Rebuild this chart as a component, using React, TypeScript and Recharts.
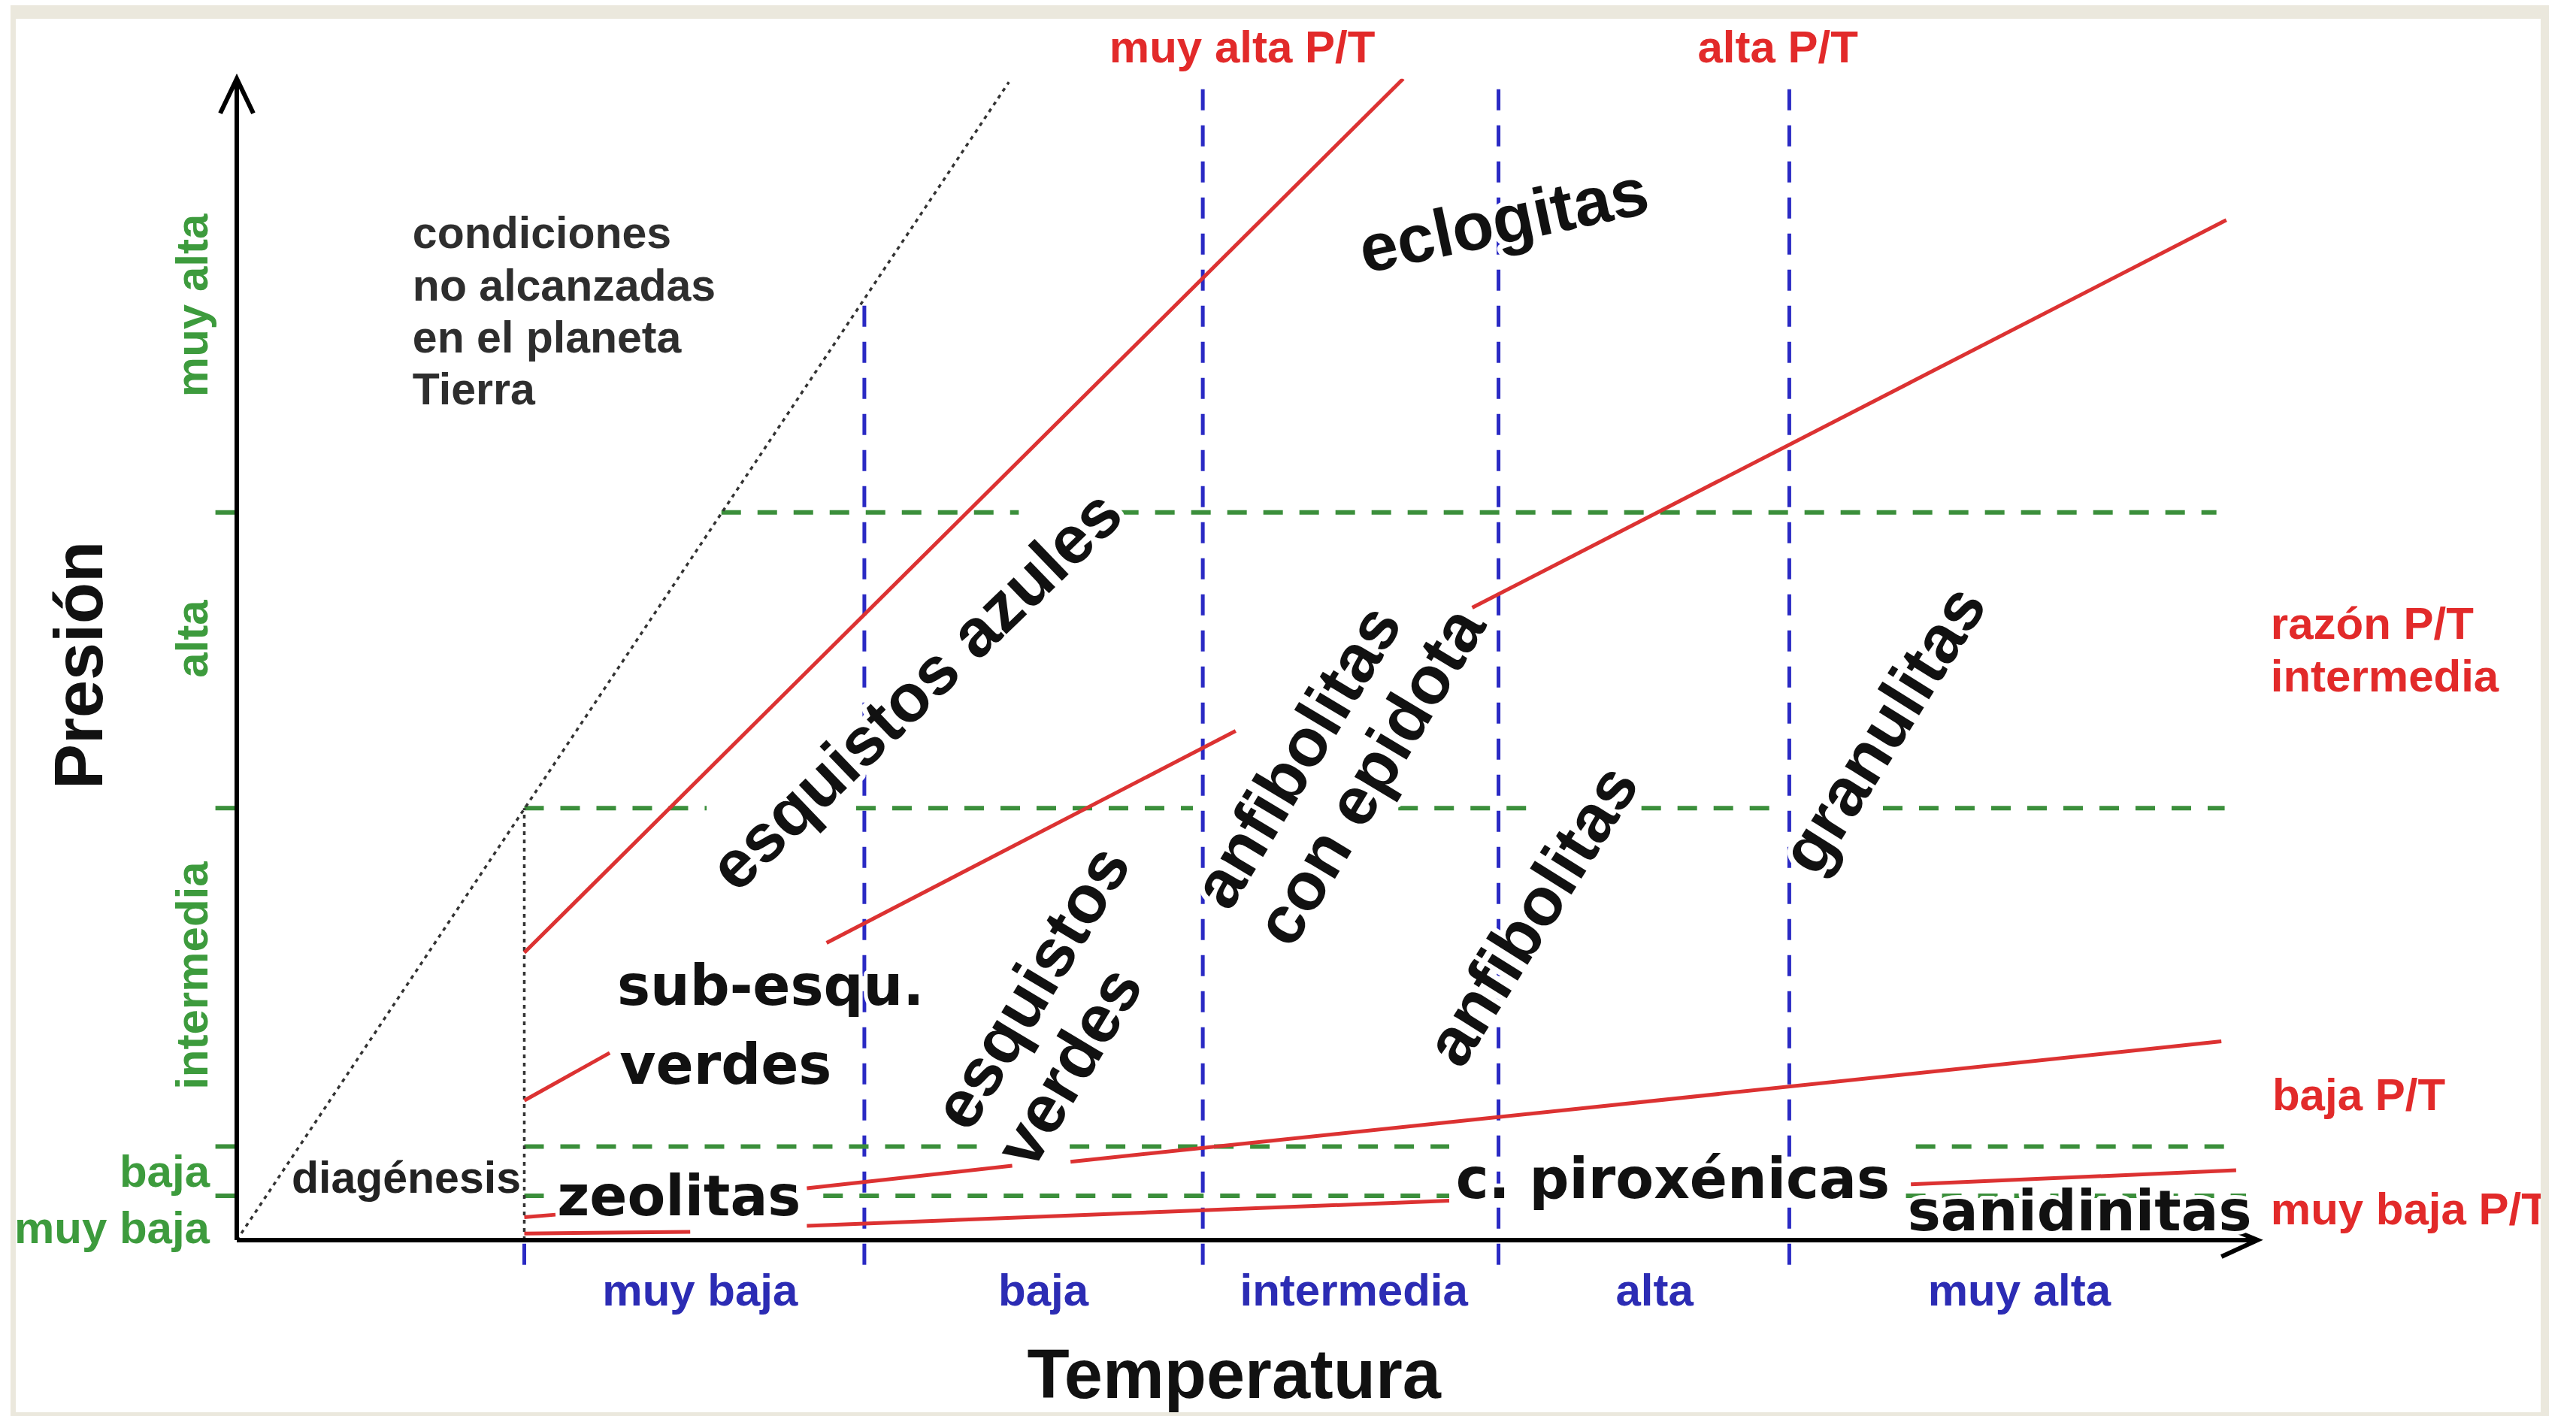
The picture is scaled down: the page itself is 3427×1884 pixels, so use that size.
import React from 'react';
import { ComposedChart, XAxis, YAxis, Line, ReferenceLine, ReferenceDot } from 'recharts';

const WIDTH = 3427;
const HEIGHT = 1884;

// diagram units, 0 at the origin (qualitative axes)
const T_MAX = 123;
const P_MAX = 70.7;

// temperature classes (blue)
const tempLimits = [17.5, 38.2, 58.8, 76.8, 94.5];
const tempLimitTops = [0, 57.5, 70.5, 70.5, 70.5];
const tempLimitBottom = -1.5;
const tempClassNames = ['muy baja', 'baja', 'intermedia', 'alta', 'muy alta'];
const tempClassTicks = [28.2, 49.1, 68.0, 86.3, 108.5];

// pressure classes (green)
const presClassNames = ['muy baja', 'baja', 'intermedia', 'alta', 'muy alta'];
const presClassTicks = [0.77, 4.18, 16.1, 36.6, 56.9];
const presLimits = [2.7, 5.7, 26.3, 44.3];
// visible pieces of each dashed pressure limit, [from T, to T]
const presLimitPieces = [
  [[17.5, 19.4], [35.7, 73.8], [101.6, 122.3]],
  [[17.5, 45.5], [50.7, 73.8], [102.2, 121.1]],
  [[17.5, 28.6], [37.7, 58.2], [70.7, 78.5], [85.5, 93.4], [100.2, 121]],
  [[29.5, 47.6], [53.7, 120.5]],
];

// dotted limits: conditions not reached on Earth, diagenesis
const earthLimit = [{ t: 0, p: 0 }, { t: 47, p: 70.5 }];
const diagenesisLimit = [{ t: 17.5, p: 0 }, { t: 17.5, p: 26.3 }];

// P/T ratio lines and facies boundaries (red)
const muyAltaPT = [{ t: 17.5, p: 17.5 }, { t: 71, p: 70.7 }];
const azulVerdeLimit = [{ t: 35.9, p: 18.1 }, { t: 60.8, p: 31.0 }];
const altaPT = [{ t: 75.2, p: 38.5 }, { t: 121.1, p: 62.1 }];
const subEsquLimit = [{ t: 17.5, p: 8.5 }, { t: 22.7, p: 11.4 }];
const bajaPT = [
  [{ t: 17.5, p: 1.4 }, { t: 19.4, p: 1.55 }],
  [{ t: 34.7, p: 3.16 }, { t: 47.2, p: 4.53 }],
  [{ t: 50.75, p: 4.77 }, { t: 120.8, p: 12.1 }],
];
const muyBajaPT = [
  [{ t: 17.5, p: 0.4 }, { t: 27.6, p: 0.5 }],
  [{ t: 34.7, p: 0.87 }, { t: 73.8, p: 2.4 }],
  [{ t: 101.9, p: 3.4 }, { t: 121.7, p: 4.25 }],
];

// facies names
const slantNames = ['eclogitas', 'esquistos azules', 'anfibolitas', 'granulitas'];
const slantAt = [[77.1, 62.1], [41.3, 33.5], [78.8, 19.8], [100.2, 31.1]];
const pairedNames = [['esquistos', 'verdes'], ['anfibolitas', 'con epidota']];
const pairedAt = [[45.3, 6.03], [61.1, 19.5]];
const flatNames = ['sub-esqu.', 'verdes', 'zeolitas', 'c. piroxénicas', 'sanidinitas'];
const flatAt = [[23.15, 14.3], [23.3, 9.5], [19.5, 1.52], [74.2, 2.56], [101.7, 0.6]];

const noteLines = ['condiciones', 'no alcanzadas', 'en el planeta', 'Tierra'];
const noteAt = [[10.7, 60.4], [10.7, 57.2], [10.7, 54.05], [10.7, 50.9]];
const diagenesisAt = [3.34, 2.9];

const ratioNames = ['muy alta P/T', 'alta P/T', 'razón P/T', 'intermedia', 'baja P/T', 'muy baja P/T'];
const ratioAt = [[61.2, 71.7], [93.8, 71.7], [123.8, 36.6], [123.8, 33.4], [123.9, 7.9], [123.8, 0.96]];

const titleT = [60.7, -9.6];
const titleP = [-8.2, 35.0];

// styles
const ARIAL = '"Liberation Sans", Arial, Helvetica, sans-serif';
const DEJAVU = '"DejaVu Sans", Verdana, sans-serif';
const RED = '#dc3232';
const RED_TEXT = '#e22a2a';
const BLUE = '#2a2ac4';
const BLUE_TEXT = '#2c2cb4';
const GREEN = '#3b8f3b';
const GREEN_TEXT = '#3d9b3d';
const INK = '#111';
const FRAME = '#ebe8dd';

const slantAngles = [-12, -44, -58, -58];

type TextOpts = {
  angle?: number;
  size: number;
  family: string;
  color: string;
  anchor: 'start' | 'middle' | 'end';
  baseline?: string;
  lineHeight?: number;
  halo?: number;
};

const textShape = (lines: string[], o: TextOpts) => (props: any) => {
  const { cx, cy } = props;
  const lh = o.lineHeight ?? o.size * 1.1;
  const first = -((lines.length - 1) / 2) * lh;
  return (
    <text
      x={cx}
      y={cy}
      transform={o.angle ? `rotate(${o.angle} ${cx} ${cy})` : undefined}
      textAnchor={o.anchor}
      dominantBaseline={o.baseline ?? 'auto'}
      fontFamily={o.family}
      fontWeight={700}
      fontSize={o.size}
      fill={o.color}
      stroke={o.halo ? '#fff' : 'none'}
      strokeWidth={o.halo ?? 0}
      strokeLinejoin="round"
      style={{ paintOrder: 'stroke' }}
    >
      {lines.map((l, i) => (
        <tspan key={i} x={cx} dy={i === 0 ? first : lh}>
          {l}
        </tspan>
      ))}
    </text>
  );
};

const arrowUp = (props: any) => {
  const { cx, cy } = props;
  return <path d={`M${cx - 22},${cy + 46} L${cx},${cy} L${cx + 22},${cy + 46}`} fill="none" stroke="#000" strokeWidth={6} />;
};

const arrowRight = (props: any) => {
  const { cx, cy } = props;
  return <path d={`M${cx - 48},${cy - 20} L${cx},${cy} L${cx - 48},${cy + 22}`} fill="none" stroke="#000" strokeWidth={6} />;
};

const renderTempTick = (props: any) => {
  const { x, y, index } = props;
  return (
    <text x={x} y={y + 87} textAnchor="middle" fontFamily={ARIAL} fontWeight={700} fontSize={60} fill={BLUE_TEXT}>
      {tempClassNames[index]}
    </text>
  );
};

const renderPresTick = (props: any) => {
  const { x, y, index } = props;
  if (index < 2) {
    return (
      <text x={x - 36} y={y} textAnchor="end" dominantBaseline="central" fontFamily={ARIAL} fontWeight={700} fontSize={60} fill={GREEN_TEXT}>
        {presClassNames[index]}
      </text>
    );
  }
  const tx = x - 39;
  return (
    <text x={tx} y={y} transform={`rotate(-90 ${tx} ${y})`} textAnchor="middle" fontFamily={ARIAL} fontWeight={700} fontSize={60} fill={GREEN_TEXT}>
      {presClassNames[index]}
    </text>
  );
};

export default function App() {
  const redLines = [muyAltaPT, azulVerdeLimit, altaPT, subEsquLimit, ...bajaPT, ...muyBajaPT];

  return (
    <div style={{ position: 'absolute', left: 0, top: 0, width: WIDTH, height: HEIGHT, background: '#fff', overflow: 'hidden' }}>
      <div style={{ position: 'absolute', left: 0, top: 0 }}>
        <ComposedChart width={WIDTH} height={HEIGHT} margin={{ top: 104.8, right: 423.7, bottom: 233, left: 314 }}>
          <XAxis
            type="number"
            dataKey="t"
            domain={[0, T_MAX]}
            allowDataOverflow
            ticks={tempClassTicks}
            interval={0}
            tickLine={false}
            tickSize={0}
            tickMargin={0}
            height={1}
            axisLine={{ stroke: '#000', strokeWidth: 6 }}
            tick={renderTempTick}
          />
          <YAxis
            type="number"
            dataKey="p"
            domain={[0, P_MAX]}
            allowDataOverflow
            ticks={presClassTicks}
            interval={0}
            tickLine={false}
            tickSize={0}
            tickMargin={0}
            width={1}
            axisLine={{ stroke: '#000', strokeWidth: 6 }}
            tick={renderPresTick}
          />

          {/* temperature class limits */}
          {tempLimits.map((t, i) => (
            <ReferenceLine
              key={`tl${i}`}
              segment={[{ x: t, y: tempLimitBottom }, { x: t, y: tempLimitTops[i] }]}
              ifOverflow="visible"
              stroke={BLUE}
              strokeWidth={5}
              strokeDasharray="28 20"
            />
          ))}

          {/* pressure class limits */}
          {presLimits.map((p, i) =>
            presLimitPieces[i].map(([a, b], j) => (
              <ReferenceLine
                key={`pl${i}-${j}`}
                segment={[{ x: a, y: p }, { x: b, y: p }]}
                ifOverflow="visible"
                stroke={GREEN}
                strokeWidth={6}
                strokeDasharray="26 22"
              />
            ))
          )}
          {presLimits.map((p, i) => (
            <ReferenceLine
              key={`pt${i}`}
              segment={[{ x: -1.3, y: p }, { x: 0, y: p }]}
              ifOverflow="visible"
              stroke={GREEN}
              strokeWidth={6}
            />
          ))}

          <ReferenceLine
            segment={[{ x: earthLimit[0].t, y: earthLimit[0].p }, { x: earthLimit[1].t, y: earthLimit[1].p }]}
            ifOverflow="visible"
            stroke="#333"
            strokeWidth={3.5}
            strokeDasharray="5 6"
          />
          <ReferenceLine
            segment={[{ x: diagenesisLimit[0].t, y: diagenesisLimit[0].p }, { x: diagenesisLimit[1].t, y: diagenesisLimit[1].p }]}
            ifOverflow="visible"
            stroke="#333"
            strokeWidth={3.5}
            strokeDasharray="5 6"
          />

          {redLines.map((seg, i) => (
            <Line
              key={`r${i}`}
              data={seg}
              dataKey="p"
              type="linear"
              stroke={RED}
              strokeWidth={5}
              dot={false}
              activeDot={false}
              legendType="none"
              isAnimationActive={false}
            />
          ))}

          <ReferenceDot x={0} y={P_MAX} r={0} ifOverflow="visible" shape={arrowUp} />
          <ReferenceDot x={T_MAX} y={0} r={0} ifOverflow="visible" shape={arrowRight} />

          {/* texts */}
          {slantNames.map((n, i) => (
            <ReferenceDot
              key={`s${i}`}
              x={slantAt[i][0]}
              y={slantAt[i][1]}
              r={0}
              ifOverflow="visible"
              shape={textShape([n], { angle: slantAngles[i], size: 90, family: ARIAL, color: INK, anchor: 'middle', baseline: 'central', halo: 14 })}
            />
          ))}
          {pairedNames.map((n, i) => (
            <ReferenceDot
              key={`pp${i}`}
              x={pairedAt[i][0]}
              y={pairedAt[i][1]}
              r={0}
              ifOverflow="visible"
              shape={textShape(n, { angle: -59, size: 90, family: ARIAL, color: INK, anchor: 'start', baseline: 'central', lineHeight: 97, halo: 14 })}
            />
          ))}
          {flatNames.map((n, i) => (
            <ReferenceDot
              key={`f${i}`}
              x={flatAt[i][0]}
              y={flatAt[i][1]}
              r={0}
              ifOverflow="visible"
              shape={textShape([n], { size: 74, family: DEJAVU, color: INK, anchor: 'start', halo: 10 })}
            />
          ))}
          {noteLines.map((n, i) => (
            <ReferenceDot
              key={`n${i}`}
              x={noteAt[i][0]}
              y={noteAt[i][1]}
              r={0}
              ifOverflow="visible"
              shape={textShape([n], { size: 59, family: ARIAL, color: '#2e2e2e', anchor: 'start' })}
            />
          ))}
          <ReferenceDot
            x={diagenesisAt[0]}
            y={diagenesisAt[1]}
            r={0}
            ifOverflow="visible"
            shape={textShape(['diagénesis'], { size: 59, family: ARIAL, color: '#222', anchor: 'start' })}
          />
          {ratioNames.map((n, i) => (
            <ReferenceDot
              key={`q${i}`}
              x={ratioAt[i][0]}
              y={ratioAt[i][1]}
              r={0}
              ifOverflow="visible"
              shape={textShape([n], { size: 60, family: ARIAL, color: RED_TEXT, anchor: i < 2 ? 'middle' : 'start' })}
            />
          ))}
          <ReferenceDot
            x={titleT[0]}
            y={titleT[1]}
            r={0}
            ifOverflow="visible"
            shape={textShape(['Temperatura'], { size: 92, family: ARIAL, color: INK, anchor: 'middle' })}
          />
          <ReferenceDot
            x={titleP[0]}
            y={titleP[1]}
            r={0}
            ifOverflow="visible"
            shape={textShape(['Presión'], { angle: -90, size: 90, family: ARIAL, color: INK, anchor: 'middle' })}
          />
        </ComposedChart>
      </div>

      {/* picture frame */}
      <div style={{ position: 'absolute', left: 14, top: 7, width: 3377, height: 18, background: FRAME }} />
      <div style={{ position: 'absolute', left: 14, top: 7, width: 7, height: 1877, background: FRAME }} />
      <div style={{ position: 'absolute', left: 3380, top: 7, width: 11, height: 1877, background: FRAME }} />
      <div style={{ position: 'absolute', left: 14, top: 1879, width: 3377, height: 5, background: FRAME }} />
      <div style={{ position: 'absolute', left: 3391, top: 0, width: 36, height: HEIGHT, background: '#fff' }} />
    </div>
  );
}
